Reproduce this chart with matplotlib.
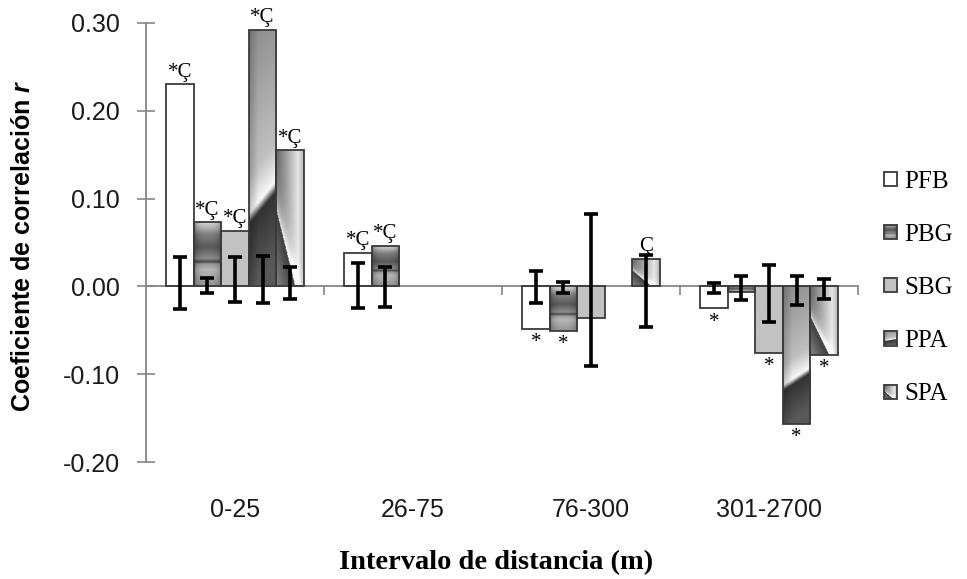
import numpy as np
import matplotlib
matplotlib.use("Agg")
import matplotlib.pyplot as plt
import matplotlib.transforms as mtransforms
from matplotlib.patches import Patch, Rectangle
from matplotlib.legend_handler import HandlerBase
from matplotlib.image import BboxImage
from matplotlib.colors import Normalize

plt.rcParams['mathtext.fontset'] = 'custom'
plt.rcParams['mathtext.rm'] = 'Liberation Sans'
plt.rcParams['mathtext.bfit'] = 'Liberation Sans:bold:italic'

# --- data ---
categories = ['0-25', '26-75', '76-300', '301-2700']
series = ['PFB', 'PBG', 'SBG', 'PPA', 'SPA']
nan = np.nan

r_PFB = [0.230, 0.038, -0.048, -0.025]
r_PBG = [0.073, 0.046, -0.051, -0.006]
r_SBG = [0.063, nan, -0.036, -0.076]
r_PPA = [0.292, nan, nan, -0.157]
r_SPA = [0.155, nan, 0.031, -0.078]

# upper / lower limits of the error bars
hi_PFB = [0.033, 0.027, 0.017, 0.004]
lo_PFB = [-0.026, -0.025, -0.019, -0.008]
hi_PBG = [0.010, 0.022, 0.005, 0.012]
lo_PBG = [-0.007, -0.023, -0.007, -0.016]
hi_SBG = [0.033, nan, 0.082, 0.024]
lo_SBG = [-0.018, nan, -0.091, -0.040]
hi_PPA = [0.035, nan, nan, 0.012]
lo_PPA = [-0.019, nan, nan, -0.021]
hi_SPA = [0.022, nan, 0.036, 0.008]
lo_SPA = [-0.014, nan, -0.046, -0.014]

# significance marks
m_PFB = ['*Ç', '*Ç', '*', '*']
m_PBG = ['*Ç', '*Ç', '*', '']
m_SBG = ['*Ç', '', '', '*']
m_PPA = ['*Ç', '', '', '*']
m_SPA = ['*Ç', '', 'Ç', '*']

ytick_vals = [-0.20, -0.10, 0.00, 0.10, 0.20, 0.30]
ytick_labels = ['-0.20', '-0.10', '0.00', '0.10', '0.20', '0.30']

values = {'PFB': r_PFB, 'PBG': r_PBG, 'SBG': r_SBG, 'PPA': r_PPA, 'SPA': r_SPA}
highs = {'PFB': hi_PFB, 'PBG': hi_PBG, 'SBG': hi_SBG, 'PPA': hi_PPA, 'SPA': hi_SPA}
lows = {'PFB': lo_PFB, 'PBG': lo_PBG, 'SBG': lo_SBG, 'PPA': lo_PPA, 'SPA': lo_SPA}
marks = {'PFB': m_PFB, 'PBG': m_PBG, 'SBG': m_SBG, 'PPA': m_PPA, 'SPA': m_SPA}

edge = '#3a3a3a'


# gradient fills (u across the bar, v from its upper edge down)
def fill_grid(kind, rows=120, cols=40):
    u, v = np.meshgrid(np.linspace(0, 1, cols), np.linspace(0, 1, rows))
    if kind == 'PFB':
        return np.ones_like(u)
    if kind == 'SBG':
        return np.full_like(u, 0.76)
    if kind == 'PBG':
        L = np.interp(v, [0, 0.07, 0.2, 0.4, 0.58, 0.63, 0.66, 0.75, 1.0],
                      [0.85, 0.75, 0.5, 0.35, 0.55, 0.28, 0.6, 0.72, 0.58])
        return L * (1 - 0.3 * np.abs(2 * u - 1) ** 3)
    if kind == 'PPA':
        d = v + 0.13 * u - 0.72
        up = np.interp(d, [-1, -0.15, 0], [0.45, 0.75, 0.97])
        dn = np.interp(d, [0, 0.04, 0.3], [0.97, 0.2, 0.35])
        L = np.where(d < 0, up, dn)
        return L * (0.8 + 0.2 * np.clip(u * 3, 0, 1))
    if kind == 'SPA':
        d = v - 0.82 * u - 0.44
        up = np.interp(u, [0, 0.3, 0.8, 1], [0.4, 0.58, 0.9, 0.72]) + 0.45 * np.exp(d / 0.12)
        dn = 0.24 + 0.5 * d
        return np.clip(np.where(d < 0, up, dn), 0, 0.97)


class GradHandler(HandlerBase):
    # legend key drawn with the same gradient as the bars
    def create_artists(self, legend, orig_handle, xdescent, ydescent, width, height, fontsize, trans):
        kind = orig_handle.get_gid()
        bb = mtransforms.Bbox.from_bounds(-xdescent, -ydescent, width, height)
        img = BboxImage(mtransforms.TransformedBbox(bb, trans), cmap='gray',
                        norm=Normalize(0, 1), interpolation='bilinear', origin='upper')
        img.set_data(fill_grid(kind, 24, 24))
        rect = Rectangle((-xdescent, -ydescent), width, height, facecolor='none',
                         edgecolor=edge, lw=1.3, transform=trans)
        return [img, rect]


fig = plt.figure(figsize=(9.67, 5.79), dpi=100)
ax = fig.add_axes([146 / 967, 1 - 462 / 579, 712 / 967, 439 / 579])

x = np.arange(len(categories))
w = 0.155

for i, name in enumerate(series):
    vals = np.array(values[name], float)
    pos = x + (i - 2) * w
    ok = ~np.isnan(vals)
    bars = ax.bar(pos[ok], vals[ok], w, facecolor='none', edgecolor=edge, lw=1.3, zorder=3)
    for b in bars:
        bb = b.get_bbox()
        ylo, yhi = min(bb.y0, bb.y1), max(bb.y0, bb.y1)
        im = ax.imshow(fill_grid(name), cmap='gray', vmin=0, vmax=1, origin='upper',
                       extent=(bb.x0, bb.x1, ylo, yhi), aspect='auto',
                       interpolation='bilinear', zorder=2)
        im.set_clip_path(b)
    # error bars
    hi = np.array(highs[name], float)
    lo = np.array(lows[name], float)
    okk = ~np.isnan(hi)
    ax.errorbar(pos[okk], (hi[okk] + lo[okk]) / 2, yerr=(hi[okk] - lo[okk]) / 2,
                fmt='none', ecolor='black', elinewidth=2.6, capsize=5, capthick=2.6, zorder=4)
    # marks
    for j, txt in enumerate(marks[name]):
        if not txt:
            continue
        if vals[j] > 0:
            ax.annotate(txt, (pos[j], vals[j]), xytext=(0, 2), textcoords='offset points',
                        ha='center', va='bottom', fontsize=15, family='Liberation Serif', zorder=5)
        else:
            ax.annotate(txt, (pos[j], vals[j]), xytext=(0, -3), textcoords='offset points',
                        ha='center', va='top', fontsize=15, family='Liberation Serif', zorder=5)

ax.set_xlim(-0.5, 3.5)
ax.set_ylim(-0.2, 0.3)

for s in ['top', 'right']:
    ax.spines[s].set_visible(False)
ax.spines['bottom'].set_position(('data', 0))
ax.spines['bottom'].set_color('#868686')
ax.spines['left'].set_color('#868686')
ax.spines['bottom'].set_linewidth(1.3)
ax.spines['left'].set_linewidth(1.3)

ax.set_xticks(x + 0.5)
ax.tick_params(axis='x', direction='out', length=6.5, width=1.2, color='#868686', labelbottom=False)
ax.set_yticks(ytick_vals)
ax.set_yticklabels(ytick_labels, family='Liberation Sans', fontsize=18, color='#1a1a1a')
ax.tick_params(axis='y', direction='inout', length=13, width=1.2, color='#868686', pad=12.5)

trans = mtransforms.blended_transform_factory(ax.transData, ax.transAxes)
for i, c in enumerate(categories):
    ax.text(x[i], -0.109, c, transform=trans, ha='center', va='center',
            family='Liberation Sans', fontsize=18, color='#1a1a1a')

fig.text(496 / 967, 1 - 563 / 579, 'Intervalo de distancia (m)', ha='center', va='center',
         family='Liberation Serif', weight='bold', fontsize=20.5)
fig.text(23 / 967, 1 - 246 / 579, r'Coeficiente de correlación $\mathbfit{r}$', rotation=90,
         ha='center', va='center', family='Liberation Sans', weight='bold', fontsize=18)

handles = [Patch(facecolor='none', edgecolor=edge, gid=n) for n in series]
fig.legend(handles, series, loc='center left', bbox_to_anchor=(884 / 967, 1 - 288 / 579),
           frameon=False, prop={'family': 'Liberation Serif', 'size': 18},
           handlelength=0.5, handleheight=0.5, handletextpad=0.3, labelspacing=1.25,
           borderpad=0, borderaxespad=0, handler_map={Patch: GradHandler()})

fig.savefig('out.png', dpi=100)
